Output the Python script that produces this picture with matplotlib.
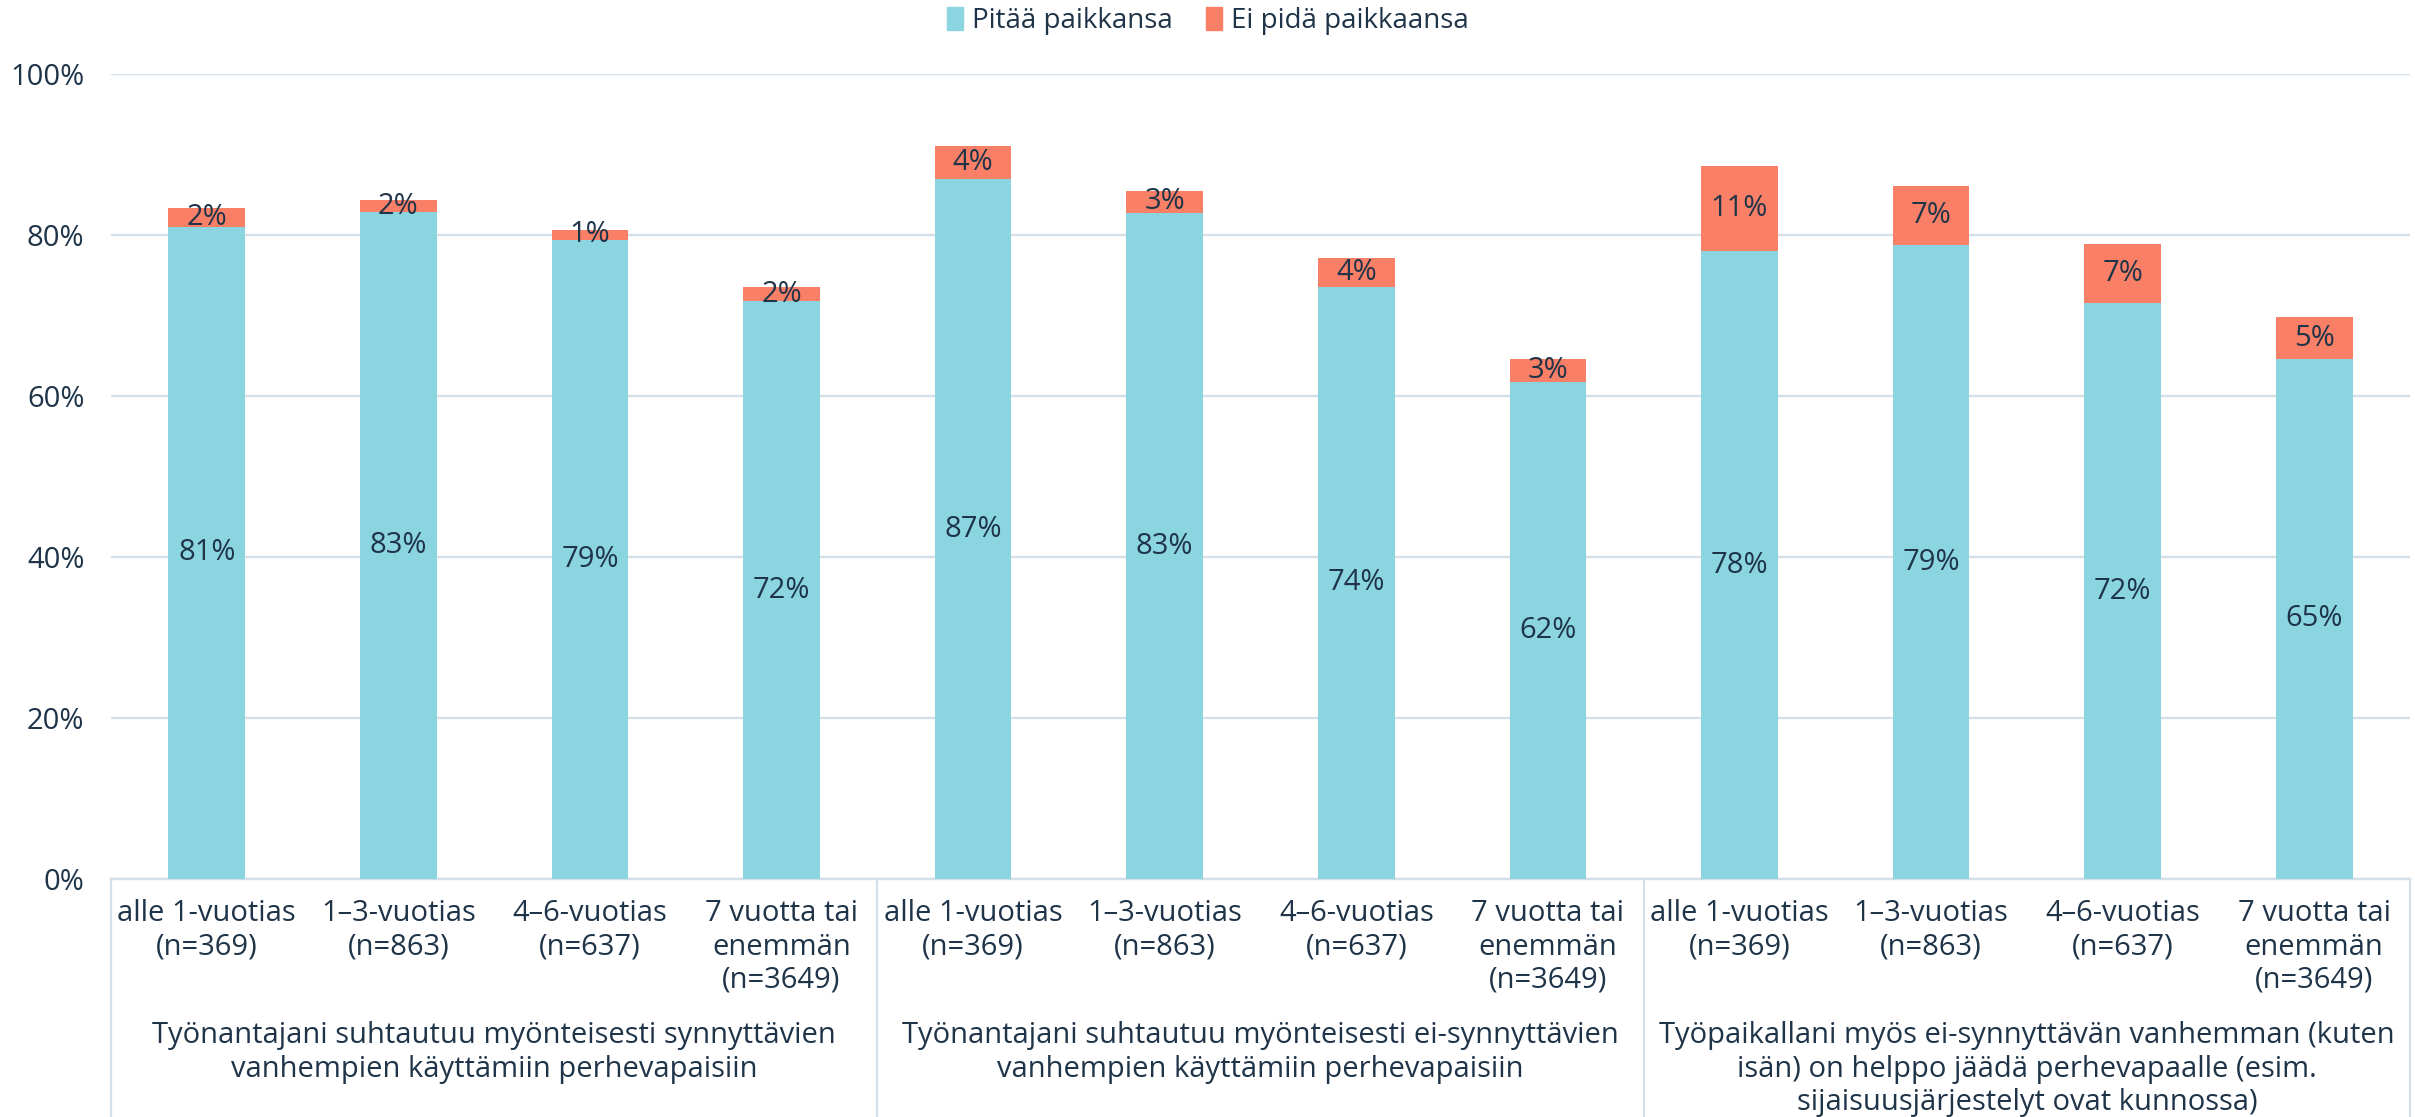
import matplotlib.pyplot as plt
import matplotlib.transforms as mtransforms
from matplotlib.patches import Patch

plt.rcParams.update({
    "font.family": ["Open Sans", "DejaVu Sans"],
    "font.size": 21,
    "text.color": "#1F3448",
})

# data (percent)
categories = ["alle 1-vuotias\n(n=369)", "1\u20133-vuotias\n(n=863)", "4\u20136-vuotias\n(n=637)",
              "7 vuotta tai\nenemmän\n(n=3649)"] * 3
groups = [
    "Työnantajani suhtautuu myönteisesti synnyttävien\nvanhempien käyttämiin perhevapaisiin",
    "Työnantajani suhtautuu myönteisesti ei-synnyttävien\nvanhempien käyttämiin perhevapaisiin",
    "Työpaikallani myös ei-synnyttävän vanhemman (kuten\nisän) on helppo jäädä perhevapaalle (esim.\nsijaisuusjärjestelyt ovat kunnossa)",
]
pitaa = [81.0, 82.8, 79.4, 71.8, 86.9, 82.7, 73.6, 61.7, 78.0, 78.7, 71.5, 64.6]
ei_pida = [2.4, 1.6, 1.2, 1.7, 4.1, 2.8, 3.6, 2.9, 10.6, 7.4, 7.4, 5.2]
series_names = ["Pitää paikkansa", "Ei pidä paikkaansa"]
yticks = [0, 20, 40, 60, 80, 100]

blue = "#8BD5E0"
red = "#F97F66"
grid_c = "#D3E0EA"
txt_c = "#1F3448"

fig = plt.figure(figsize=(24.15, 11.17), dpi=100)
ax = fig.add_axes([111 / 2415, 1 - 879 / 1117, 2299 / 2415, 805 / 1117])

x = list(range(len(pitaa)))
ax.bar(x, pitaa, width=0.4, color=blue, zorder=3)
ax.bar(x, ei_pida, width=0.4, bottom=pitaa, color=red, zorder=3)

for xi, b, r in zip(x, pitaa, ei_pida):
    ax.text(xi, b / 2, f"{b:.0f}%", ha="center", va="center", color=txt_c, zorder=4)
    ax.text(xi, b + r / 2, f"{r:.0f}%", ha="center", va="center", color=txt_c, zorder=4)

ax.set_xlim(-0.5, len(x) - 0.5)
ax.set_ylim(0, 100)
ax.set_yticks(yticks)
ax.set_yticklabels([f"{t}%" for t in yticks])
ax.tick_params(axis="y", length=0, pad=19, colors=txt_c)
ax.set_xticks([])
ax.yaxis.grid(True, color=grid_c, linewidth=1.7, zorder=0)
for s in ["top", "right", "left"]:
    ax.spines[s].set_visible(False)
ax.spines["bottom"].set_color(grid_c)
ax.spines["bottom"].set_linewidth(1.7)

trans = mtransforms.blended_transform_factory(ax.transData, ax.transAxes)
bottom_frac = -(1117 - 879) / 805
for sep in [-0.5, 3.5, 7.5, 11.5]:
    ax.plot([sep, sep], [0, bottom_frac], transform=trans, color=grid_c,
            linewidth=1.6, clip_on=False)

for xi, lab in zip(x, categories):
    ax.text(xi, -0.025, lab, transform=trans, ha="center", va="top",
            linespacing=1.2, color=txt_c)

for gi, g in enumerate(groups):
    ax.text(gi * 4 + 1.5, -0.177, g, transform=trans, ha="center", va="top",
            linespacing=1.2, color=txt_c)

handles = [Patch(color=blue), Patch(color=red)]
fig.legend(handles, series_names, loc="center", bbox_to_anchor=(0.5, 1 - 21 / 1117),
           ncol=2, frameon=False, handlelength=0.6, handleheight=0.9,
           handletextpad=0.3, columnspacing=1.2, fontsize=20)

plt.savefig("out.png")
